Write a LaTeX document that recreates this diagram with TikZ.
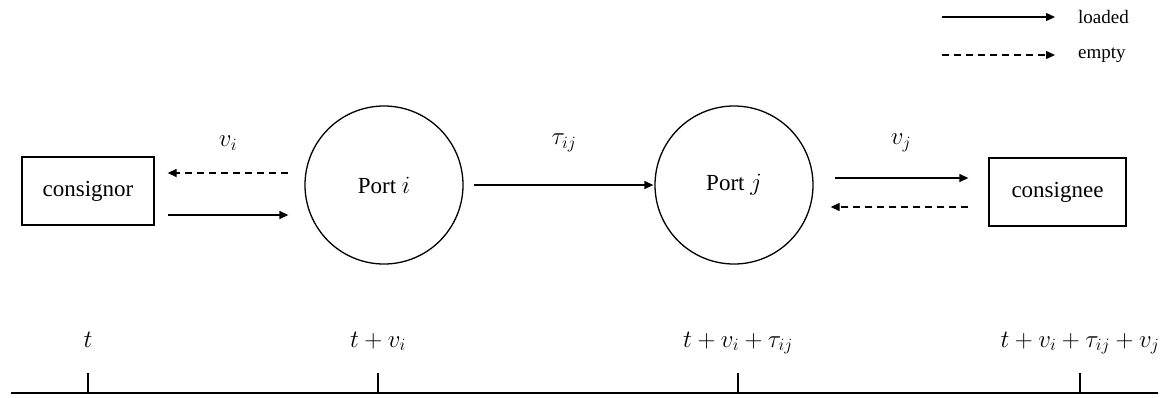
\documentclass[tikz,border=0pt]{standalone}
\usepackage{fontspec}
\setmainfont{Liberation Serif}
\usetikzlibrary{arrows.meta,positioning}

\begin{document}
\begin{tikzpicture}[x=1pt,y=-1pt,
  every node/.style={font=\fontsize{23}{28}\selectfont},
  portnode/.style={draw,circle,line width=1.3pt,minimum size=158pt,inner sep=0pt},
  partybox/.style={draw,rectangle,line width=1.3pt,minimum height=68pt,inner sep=0pt},
  loadedarr/.style={line width=1.3pt,-{Triangle[length=9pt,width=8pt]}},
  emptyarr/.style={loadedarr,dash pattern=on 7pt off 5pt},
  legendtxt/.style={font=\fontsize{19}{23}\selectfont,anchor=west,inner sep=0pt},
  tickmark/.style={line width=2pt}]
  \useasboundingbox (0,0) rectangle (1161,397);

  % the four places
  \node[partybox,minimum width=132pt] (consignor) at (88,191) {consignor};
  \node[portnode] (portI) at (384,185) {Port $i$};
  \node[portnode] (portJ) at (734,185) {Port $j$};
  \node[partybox,minimum width=137pt] (consignee) at (1057.5,192) {consignee};

  % flows
  \draw[emptyarr,shorten <=16pt,shorten >=13pt] ([yshift=18pt]consignor.east -| portI.west) -- ([yshift=18pt]consignor.east);
  \draw[loadedarr,shorten <=13pt,shorten >=16pt] ([yshift=-24pt]consignor.east) -- ([yshift=-24pt]consignor.east -| portI.west);
  \draw[loadedarr,shorten <=10pt,shorten >=1pt] (portI.east) -- (portJ.west);
  \draw[loadedarr,shorten <=21pt,shorten >=20pt] ([yshift=14pt]consignee.west -| portJ.east) -- ([yshift=14pt]consignee.west);
  \draw[emptyarr,shorten <=20pt,shorten >=17pt] ([yshift=-15pt]consignee.west) -- ([yshift=-15pt]consignee.west -| portJ.east);

  \node (lblvi) at (228,143) {$v_i$};
  \node (lbltau) at (564,143) {$\tau_{ij}$};
  \node (lblvj) at (901,143) {$v_j$};

  % legend
  \node[legendtxt] (lgloaded) at (1078,17) {loaded};
  \node[legendtxt] (lgempty) at (1078,55) {empty};
  \draw[loadedarr] ([xshift=-136pt]lgloaded.west) -- ([xshift=-23pt]lgloaded.west);
  \draw[emptyarr] ([xshift=-136pt]lgempty.west) -- ([xshift=-23pt]lgempty.west);

  % time axis
  \coordinate (tlstart) at (11,393);
  \coordinate (tlend) at (1158,393);
  \draw[line width=2.5pt] (tlstart) -- (tlend);
  \foreach \x/\lbl [count=\k] in {88/{t},378/{t + v_i},738/{t + v_i + \tau_{ij}},1080/{t + v_i + \tau_{ij} + v_j}}{
    \draw[tickmark] (\x,393) -- (\x,373);
    \node[anchor=base] (tlab\k) at (\x,347) {$\lbl$};
  }
\end{tikzpicture}
\end{document}
